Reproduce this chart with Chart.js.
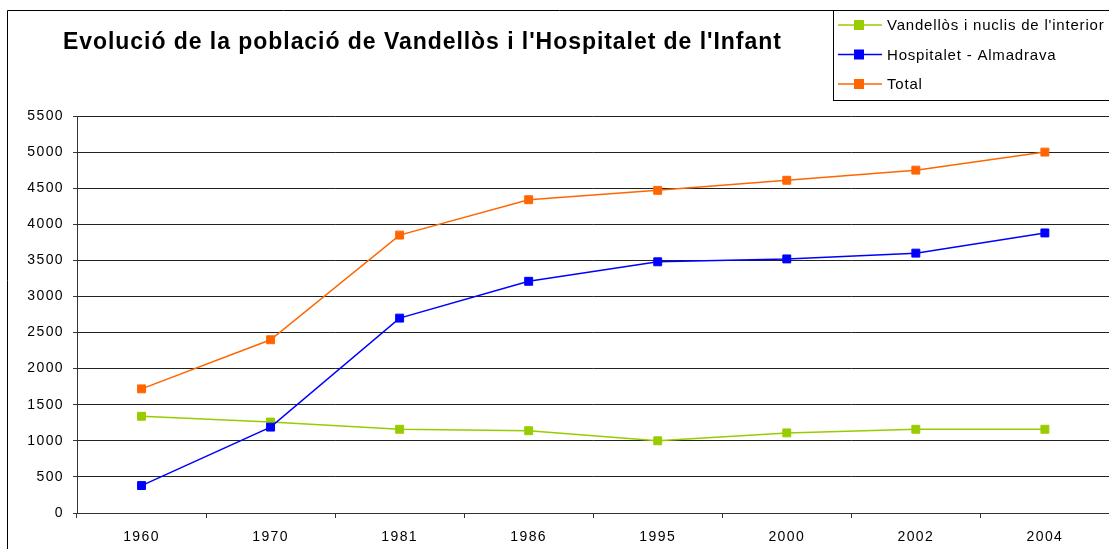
<!DOCTYPE html>
<html>
<head>
<meta charset="utf-8">
<script src="https://cdn.jsdelivr.net/npm/chart.js@4/dist/chart.umd.min.js"></script>
<style>
  html, body { margin: 0; padding: 0; background: #fff; overflow: hidden; width: 1109px; height: 549px; }
  canvas { display: block; }
</style>
</head>
<body>
<canvas id="c" width="1116" height="549"></canvas>
<script>
const chartTitle = "Evolució de la població de Vandellòs i l'Hospitalet de l'Infant";
const years = ['1960', '1970', '1981', '1986', '1995', '2000', '2002', '2004'];
const seriesNames = ["Vandellòs i nuclis de l'interior", 'Hospitalet - Almadrava', 'Total'];
const interior = [1340, 1260, 1160, 1140, 1000, 1110, 1160, 1160];
const hospitalet = [380, 1190, 2700, 3210, 3480, 3520, 3600, 3880];
const total = [1720, 2400, 3850, 4340, 4470, 4610, 4750, 5000];
const yTicks = [0, 500, 1000, 1500, 2000, 2500, 3000, 3500, 4000, 4500, 5000, 5500];

const colors = ['#99CC00', '#0000FF', '#FF6600'];
const FONT = "'Liberation Sans', Arial, sans-serif";
const VIEW_W = 1109;

function ds(label, data, color, order) {
  return {
    label, data, order,
    borderColor: color,
    backgroundColor: color,
    borderWidth: 1.5,
    pointStyle: 'rect',
    pointRadius: 5.6,
    pointHoverRadius: 5.6,
    pointBorderWidth: 1,
    pointBackgroundColor: color,
    pointBorderColor: color,
    tension: 0,
    fill: false
  };
}

const decor = {
  id: 'decor',
  beforeDraw(chart) {
    const ctx = chart.ctx;
    ctx.save();
    ctx.fillStyle = '#fff';
    ctx.fillRect(0, 0, chart.width, chart.height);
    ctx.restore();
    ctx.letterSpacing = '1.4px';
  },
  afterDraw(chart) {
    const ctx = chart.ctx;
    ctx.save();
    // outer frame
    ctx.strokeStyle = '#000';
    ctx.lineWidth = 1;
    ctx.beginPath();
    ctx.moveTo(7.5, chart.height + 2);
    ctx.lineTo(7.5, 10.5);
    ctx.lineTo(VIEW_W + 2, 10.5);
    ctx.stroke();

    // title
    ctx.letterSpacing = '0.95px';
    ctx.fillStyle = '#000';
    ctx.font = 'bold 23px ' + FONT;
    ctx.textAlign = 'left';
    ctx.textBaseline = 'alphabetic';
    ctx.fillText(chartTitle, 63, 49);

    // legend box
    ctx.fillStyle = '#fff';
    ctx.fillRect(833, 10, VIEW_W - 833 + 10, 90);
    ctx.strokeStyle = '#000';
    ctx.lineWidth = 1;
    ctx.strokeRect(833.5, 10.5, VIEW_W - 833 + 10, 90);

    const rows = [25, 54.5, 84];
    chart.data.datasets.forEach((d, i) => {
      const y = rows[i];
      ctx.strokeStyle = d.borderColor;
      ctx.lineWidth = 1.5;
      ctx.beginPath();
      ctx.moveTo(838, y);
      ctx.lineTo(882, y);
      ctx.stroke();
      ctx.fillStyle = d.borderColor;
      ctx.fillRect(854, y - 5, 10, 10);
      ctx.fillStyle = '#000';
      ctx.font = '15px ' + FONT;
      ctx.letterSpacing = '0.8px';
      ctx.textBaseline = 'middle';
      ctx.fillText(d.label, 887, y + 1);
    });
    ctx.restore();
  }
};

new Chart(document.getElementById('c'), {
  type: 'line',
  data: {
    labels: years,
    datasets: [
      ds(seriesNames[0], interior, colors[0], 1),
      ds(seriesNames[1], hospitalet, colors[1], 0),
      ds(seriesNames[2], total, colors[2], 2)
    ]
  },
  options: {
    responsive: false,
    animation: false,
    devicePixelRatio: 1,
    layout: { padding: { top: 116, left: 0, right: 0, bottom: 0 } },
    plugins: {
      legend: { display: false },
      title: { display: false },
      tooltip: { enabled: false }
    },
    scales: {
      x: {
        offset: true,
        grid: {
          offset: true,
          drawOnChartArea: false,
          drawTicks: true,
          tickLength: 5,
          color: '#333',
          lineWidth: 1
        },
        border: { display: true, color: '#333', width: 1 },
        ticks: {
          color: '#000',
          font: { family: FONT, size: 14 },
          padding: 11,
          maxRotation: 0,
          autoSkip: false
        },
        afterFit(scale) {
          scale.height = 36;
          scale.paddingLeft = 0;
          scale.paddingRight = 0;
        }
      },
      y: {
        min: 0,
        max: 5500,
        afterBuildTicks(scale) {
          scale.ticks = yTicks.map(v => ({ value: v }));
        },
        grid: {
          color: '#222',
          lineWidth: 1,
          drawTicks: true,
          tickLength: 4,
          tickColor: '#333'
        },
        border: { display: true, color: '#333', width: 1 },
        ticks: {
          color: '#000',
          font: { family: FONT, size: 14 },
          padding: 9,
          callback: (v) => String(v)
        },
        afterFit(scale) {
          scale.width = 77;
          scale.paddingTop = 0;
          scale.paddingBottom = 0;
        }
      }
    }
  },
  plugins: [decor]
});
</script>
</body>
</html>
